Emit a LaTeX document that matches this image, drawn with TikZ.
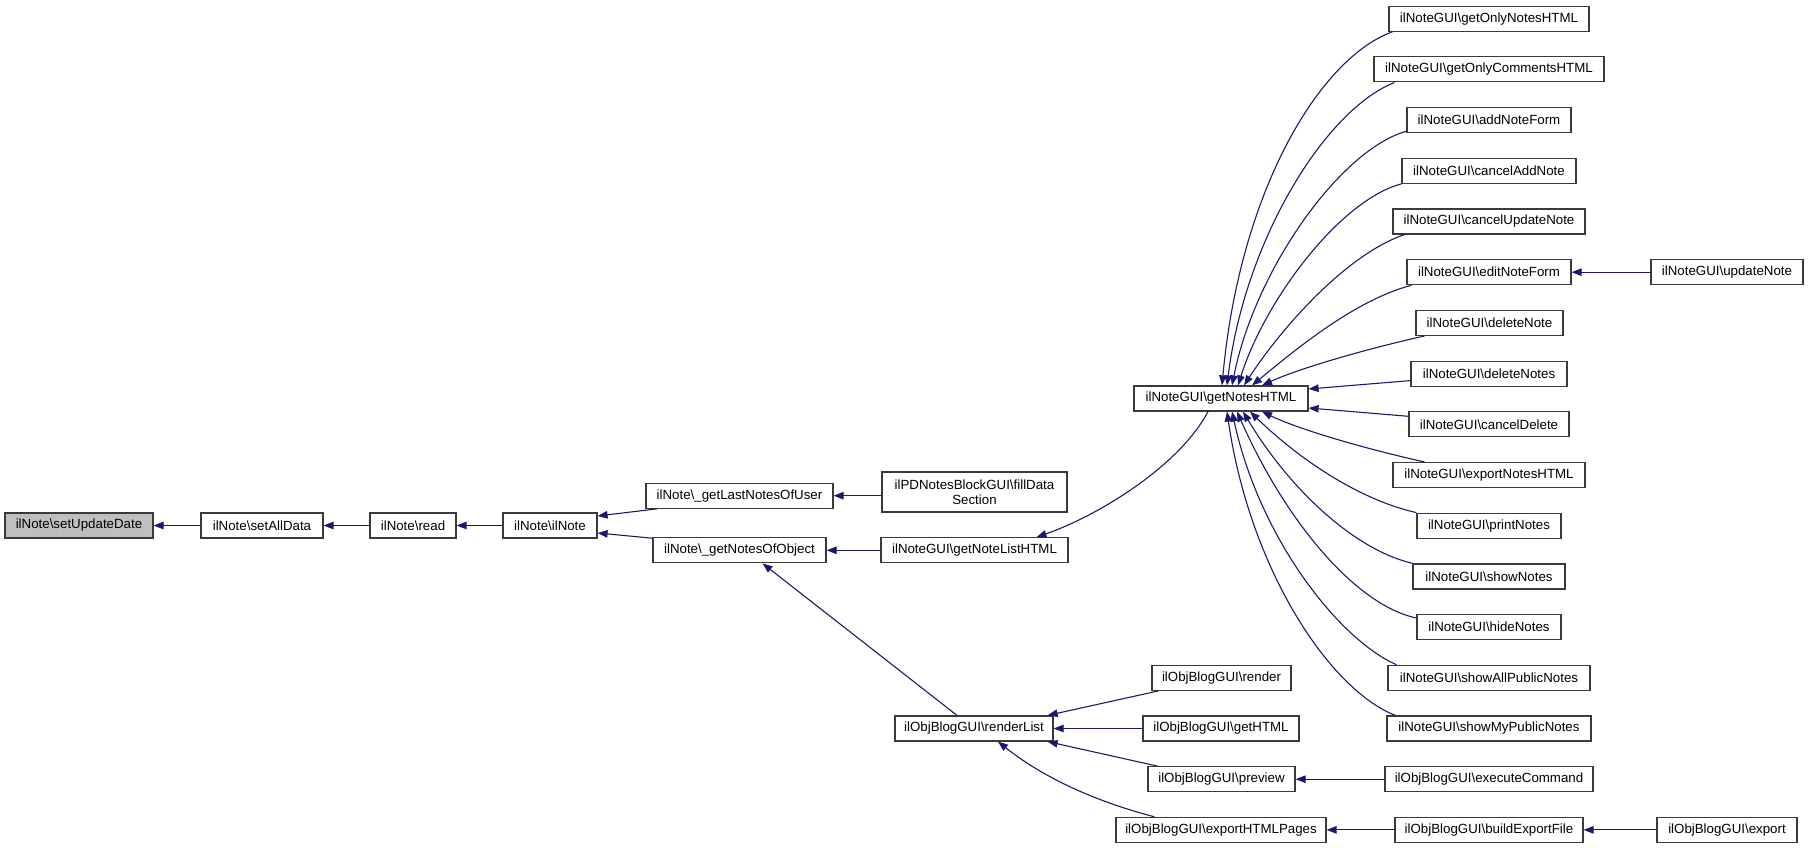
\documentclass[tikz,border=0pt]{standalone}
\usepackage{fontspec}
\setmainfont{Liberation Sans}
\usetikzlibrary{arrows.meta}
\definecolor{edgecol}{HTML}{191970}
\definecolor{boxline}{HTML}{3A3A3A}
\definecolor{rootfill}{HTML}{BFBFBF}
\tikzset{
  box/.style={draw=boxline, line width=1.2pt, fill=white, minimum height=25pt, inner sep=0pt,
    font=\fontsize{13.3pt}{15.5pt}\selectfont, align=center},
  rootbox/.style={box, fill=rootfill},
  edge/.style={draw=edgecol, line width=1.1pt, -{Triangle[length=10pt,width=7.5pt]}}
}
\newcommand{\bs}{\textbackslash}
\begin{document}
\begin{tikzpicture}[x=1pt,y=-1pt]
\useasboundingbox (0,0) rectangle (1808,848);
% left chain
\node[rootbox, minimum width=148pt] (sud) at (79,525.5) {ilNote\bs setUpdateDate};
\node[box, minimum width=122pt] (sad) at (262,525.5) {ilNote\bs setAllData};
\node[box, minimum width=86pt] (rd) at (413,525.5) {ilNote\bs read};
\node[box, minimum width=94pt] (iln) at (550,525.5) {ilNote\bs ilNote};
\node[box, minimum width=187pt] (gln) at (739.5,495.7) {ilNote\bs\_getLastNotesOfUser};
\node[box, minimum width=173pt] (gno) at (739.5,550.3) {ilNote\bs\_getNotesOfObject};
\node[box, minimum width=185pt, minimum height=40pt] (fds) at (974.5,492) {ilPDNotesBlockGUI\bs fillData\\Section};
\node[box, minimum width=187pt] (gnl) at (974.5,550.3) {ilNoteGUI\bs getNoteListHTML};
\node[box, minimum width=158pt] (rl) at (974,728.5) {ilObjBlogGUI\bs renderList};
% column 6
\node[box, minimum width=174pt] (gnh) at (1221,398.5) {ilNoteGUI\bs getNotesHTML};
\node[box, minimum width=139pt] (rend) at (1221.5,677.8) {ilObjBlogGUI\bs render};
\node[box, minimum width=156pt] (ghtml) at (1221,728.5) {ilObjBlogGUI\bs getHTML};
\node[box, minimum width=147pt] (prev) at (1221.5,779.2) {ilObjBlogGUI\bs preview};
\node[box, minimum width=210pt] (ehp) at (1221,829.9) {ilObjBlogGUI\bs exportHTMLPages};
% column 7
\node[box, minimum width=200pt] (gon) at (1489,18.7) {ilNoteGUI\bs getOnlyNotesHTML};
\node[box, minimum width=230pt] (goc) at (1489,69.4) {ilNoteGUI\bs getOnlyCommentsHTML};
\node[box, minimum width=164pt] (anf) at (1489,120.1) {ilNoteGUI\bs addNoteForm};
\node[box, minimum width=174pt] (can) at (1489,170.8) {ilNoteGUI\bs cancelAddNote};
\node[box, minimum width=192pt] (cun) at (1489,221.5) {ilNoteGUI\bs cancelUpdateNote};
\node[box, minimum width=164pt] (enf) at (1489,272.2) {ilNoteGUI\bs editNoteForm};
\node[box, minimum width=147pt] (dn) at (1489.5,322.9) {ilNoteGUI\bs deleteNote};
\node[box, minimum width=156pt] (dns) at (1489,373.6) {ilNoteGUI\bs deleteNotes};
\node[box, minimum width=160pt] (cd) at (1489,424.3) {ilNoteGUI\bs cancelDelete};
\node[box, minimum width=192pt] (enh) at (1489,475) {ilNoteGUI\bs exportNotesHTML};
\node[box, minimum width=144pt] (pn) at (1489,525.7) {ilNoteGUI\bs printNotes};
\node[box, minimum width=152pt] (sn) at (1489,576.4) {ilNoteGUI\bs showNotes};
\node[box, minimum width=144pt] (hn) at (1489,627.1) {ilNoteGUI\bs hideNotes};
\node[box, minimum width=202pt] (sapn) at (1489,677.8) {ilNoteGUI\bs showAllPublicNotes};
\node[box, minimum width=204pt] (smpn) at (1489,728.5) {ilNoteGUI\bs showMyPublicNotes};
\node[box, minimum width=208pt] (ec) at (1489,779.2) {ilObjBlogGUI\bs executeCommand};
\node[box, minimum width=188pt] (bef) at (1489,829.9) {ilObjBlogGUI\bs buildExportFile};
% column 8
\node[box, minimum width=152pt] (un) at (1727,272.2) {ilNoteGUI\bs updateNote};
\node[box, minimum width=140pt] (exp) at (1727,829.9) {ilObjBlogGUI\bs export};
% edges left chain
\draw[edge] (sad.west) -- (sud.east);
\draw[edge] (rd.west) -- (sad.east);
\draw[edge] (iln.west) -- (rd.east);
\draw[edge] ([xshift=12pt]gln.south west) -- ([yshift=9.5pt]iln.east);
\draw[edge] ([yshift=-1pt]gno.north west) -- ([yshift=-7.5pt]iln.east);
\draw[edge] (fds.west|-gln.east) -- (gln.east);
\draw[edge] (gnl.west) -- (gno.east);
\draw[edge] ([xshift=-17pt]rl.north) -- ([xshift=23pt]gno.south);
\draw[edge] ([xshift=-13pt]gnh.south) .. controls (1180,465) and (1100,515) .. ([xshift=62pt]gnl.north);
% renderList callers
\draw[edge] ([xshift=7pt]rend.south west) -- ([xshift=-6pt]rl.north east);
\draw[edge] (ghtml.west) -- (rl.east);
\draw[edge] ([xshift=10pt]prev.north west) -- ([xshift=-6pt]rl.south east);
\draw[edge] ([xshift=39pt]ehp.north west) .. controls (1090,800) and (1040,775) .. ([xshift=24pt]rl.south);
\draw[edge] (ec.west) -- (prev.east);
\draw[edge] (bef.west) -- (ehp.east);
\draw[edge] (exp.west) -- (bef.east);
\draw[edge] (un.west) -- (enf.east);
% getNotesHTML callers
\draw[edge] ([xshift=4pt]gon.south west) .. controls (1320,58) and (1240,190) .. ([xshift=1pt]gnh.north);
\draw[edge] ([xshift=21pt]goc.south west) .. controls (1325,110) and (1245,240) .. ([xshift=6pt]gnh.north);
\draw[edge] ([yshift=2pt]anf.south west) .. controls (1340,150) and (1255,270) .. ([xshift=11pt]gnh.north);
\draw[edge] (can.south west) .. controls (1340,200) and (1265,300) .. ([xshift=17pt]gnh.north);
\draw[edge] ([xshift=12pt]cun.south west) .. controls (1345,255) and (1280,330) .. ([xshift=23pt]gnh.north);
\draw[edge] ([xshift=5pt]enf.south west) .. controls (1355,300) and (1295,350) .. ([xshift=31pt]gnh.north);
\draw[edge] ([xshift=9pt]dn.south west) .. controls (1370,348) and (1300,368) .. ([xshift=41pt]gnh.north);
\draw[edge] ([yshift=-7pt]dns.west) -- ([yshift=9.5pt]gnh.east);
\draw[edge] ([yshift=8pt]cd.west) -- ([yshift=-9.5pt]gnh.east);
\draw[edge] ([xshift=32pt]enh.north west) .. controls (1370,450) and (1300,430) .. ([xshift=41pt]gnh.south);
\draw[edge] (pn.north west) .. controls (1360,500) and (1300,460) .. ([xshift=29pt]gnh.south);
\draw[edge] (sn.north west) .. controls (1355,550) and (1290,490) .. ([xshift=22pt]gnh.south);
\draw[edge] ([yshift=-4pt]hn.north west) .. controls (1355,605) and (1285,520) .. ([xshift=16pt]gnh.south);
\draw[edge] ([xshift=9pt]sapn.north west) .. controls (1340,640) and (1260,540) .. ([xshift=11pt]gnh.south);
\draw[edge] ([xshift=9pt]smpn.north west) .. controls (1330,690) and (1250,570) .. ([xshift=6pt]gnh.south);
\end{tikzpicture}
\end{document}
